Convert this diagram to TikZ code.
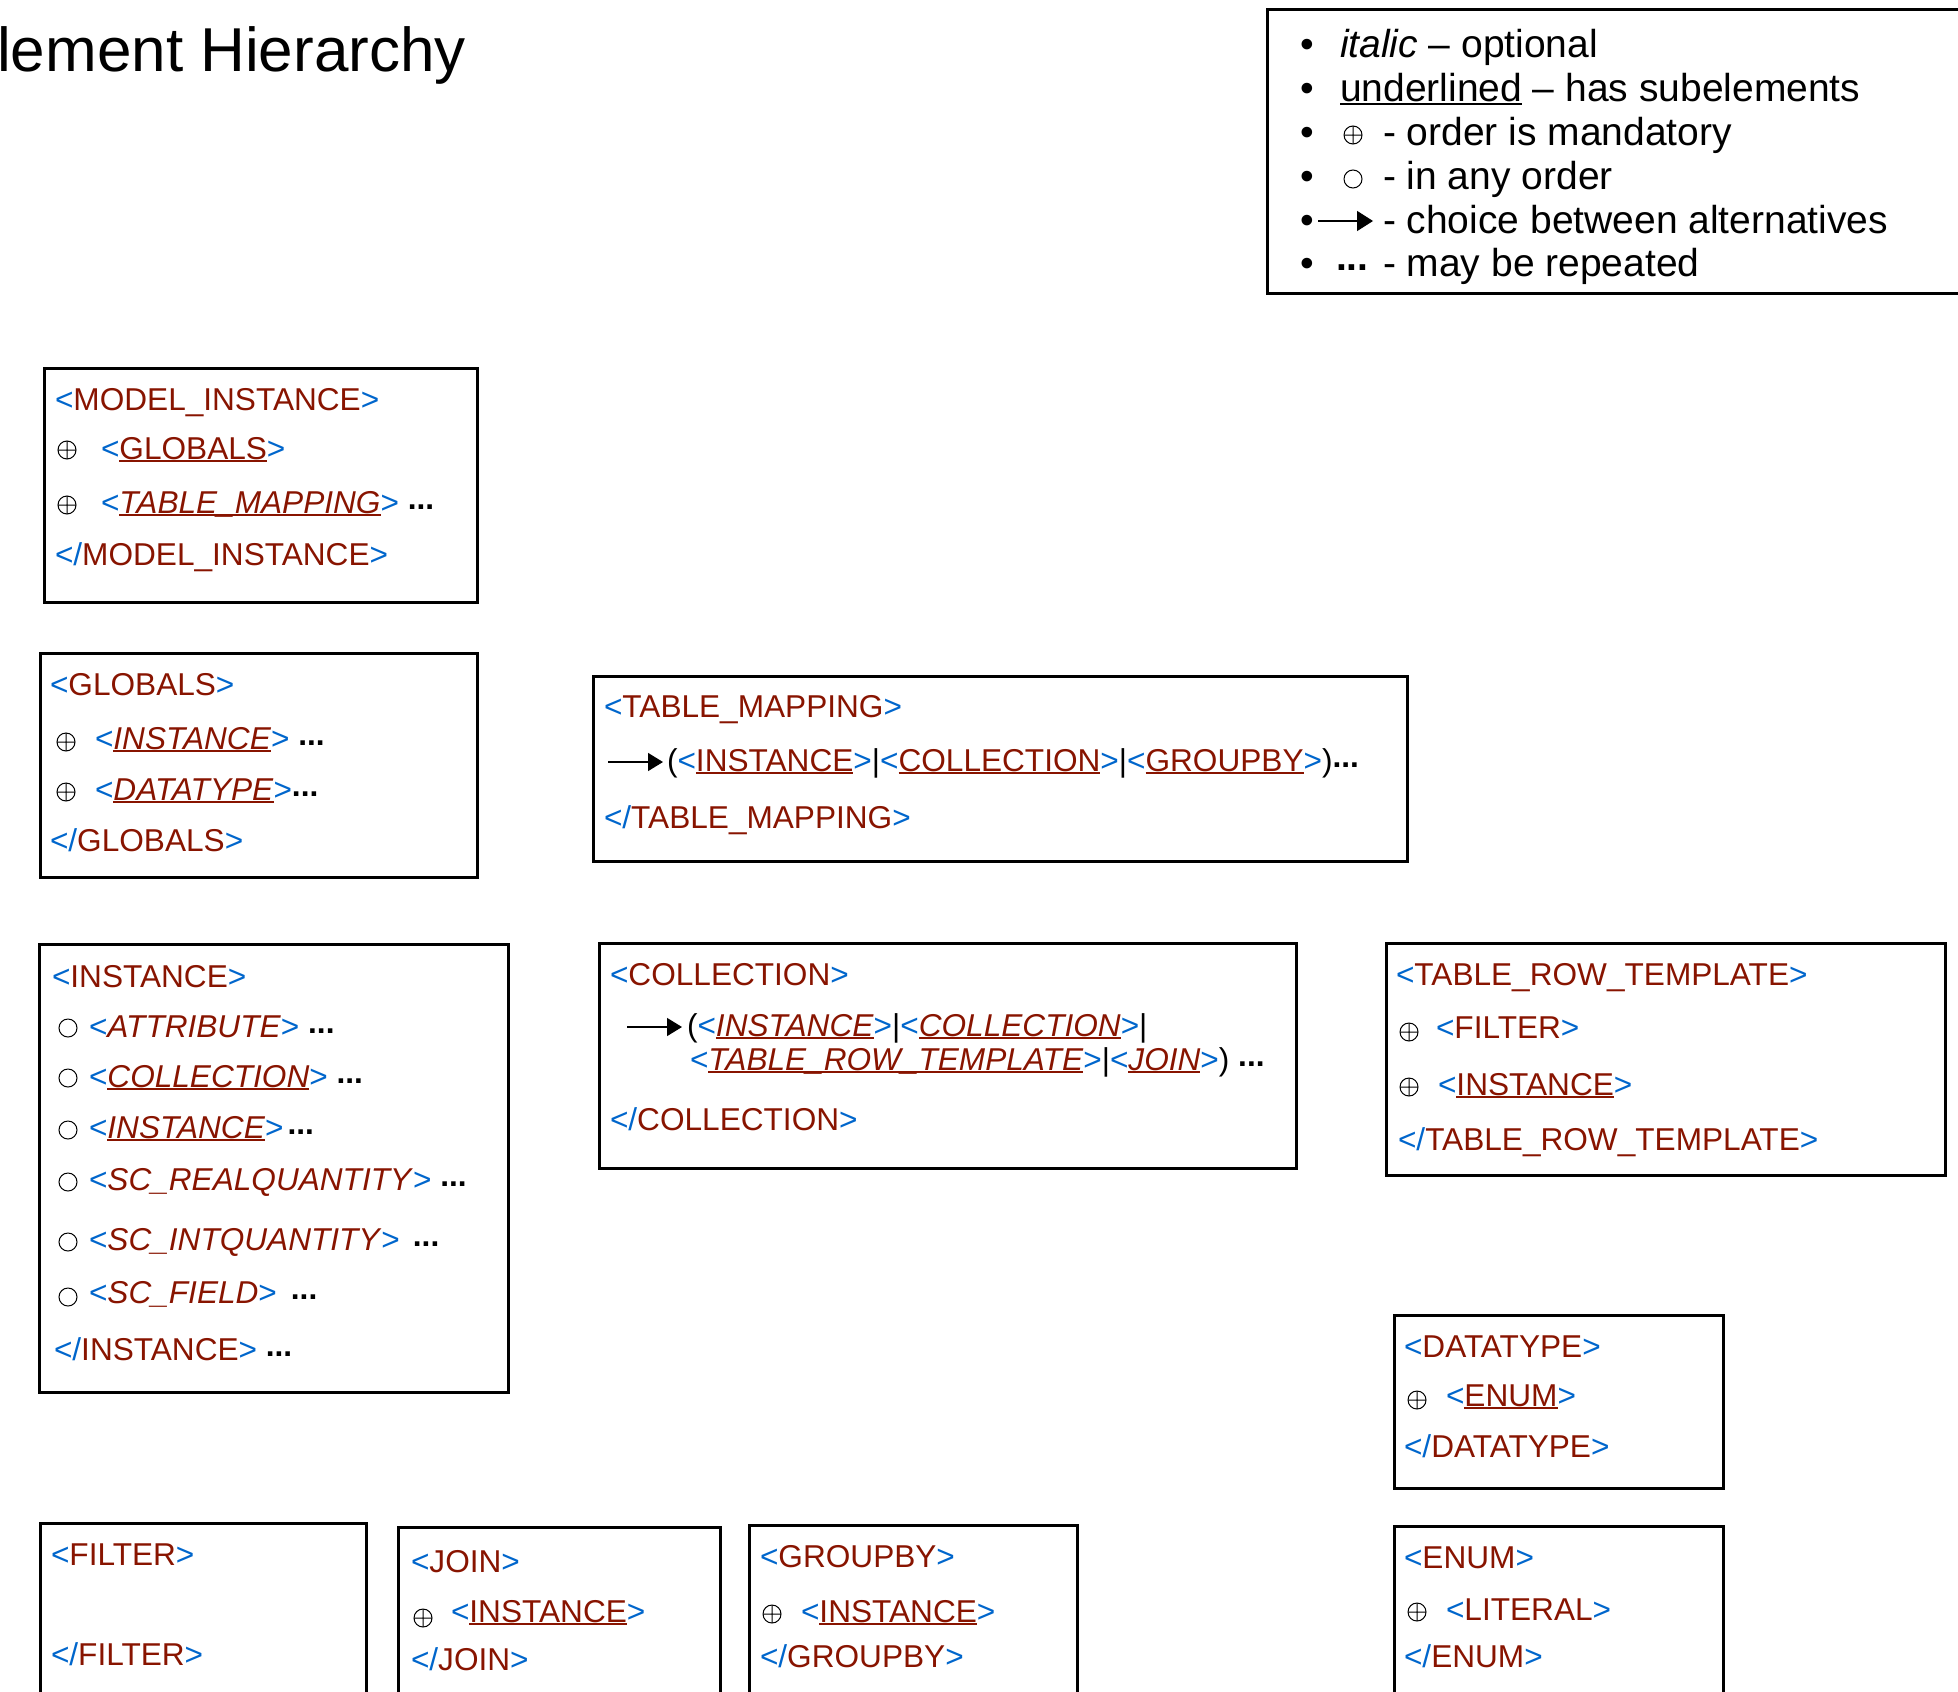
\documentclass[tikz,border=0pt]{standalone}
\usepackage{fontspec}
\setmainfont{Liberation Sans}
\usetikzlibrary{arrows.meta}
\definecolor{tagblue}{RGB}{0,102,204}
\definecolor{tagred}{RGB}{136,20,0}
\newcommand\tagL{\textcolor{tagblue}{<}}
\newcommand\tagR{\textcolor{tagblue}{>}}
\newcommand\tagLs{\textcolor{tagblue}{</}}
\newcommand\myul[1]{\setbox0\hbox{#1}\rlap{\rule[-2.6pt]{\wd0}{1.6pt}}\box0\relax}
\newcommand\nm[1]{\textcolor{tagred}{#1}}
\newcommand\unm[1]{\textcolor{tagred}{\myul{#1}}}
\newcommand\inm[1]{\textcolor{tagred}{\itshape #1\/}}
\newcommand\iunm[1]{\textcolor{tagred}{\myul{\itshape #1\/}}}
\newcommand\rep{\raisebox{4pt}{\textbf{...}}}
\tikzset{
  tx/.style={anchor=base west, inner sep=0pt, outer sep=0pt, font=\fontsize{31.6}{36}\selectfont},
  lg/.style={anchor=base west, inner sep=0pt, outer sep=0pt, font=\fontsize{39}{44}\selectfont},
  frame/.style={line width=3pt},
  choice/.style={line width=1.4pt, -{Triangle[length=15pt,width=18pt]}},
  lgchoice/.style={line width=1.4pt, -{Triangle[length=16pt,width=20pt]}},
  opl/.pic={\draw[line width=1pt] (0,0) circle (9pt) (-9,0) -- (9,0) (0,-9) -- (0,9);},
  ocirc/.pic={\draw[line width=1pt] (0,0) circle (9pt);}
}
\begin{document}
\begin{tikzpicture}[x=1pt,y=-1pt]
\useasboundingbox (0,0) rectangle (1958,1691);
\fill[white] (0,0) rectangle (1958,1691);

% title
\node[anchor=base west, inner sep=0pt, font=\fontsize{62}{70}\selectfont] (title) at (-3,72) {lement Hierarchy};

% legend
\draw[frame] (1962,10) -- (1267,10) -- (1267,293) -- (1962,293);
\node[lg] (b1) at (1300,58) {\textbullet};
\node[lg] (b2) at (1300,102) {\textbullet};
\node[lg] (b3) at (1300,146) {\textbullet};
\node[lg] (b4) at (1300,189) {\textbullet};
\node[lg] (b5) at (1300,233) {\textbullet};
\node[lg] (b6) at (1300,276) {\textbullet};
\node[lg] (l1) at (1340,58) {\textit{italic} -- optional};
\node[lg] (l2) at (1340,102) {\myul{underlined} -- has subelements};
\pic at (1353,135) {opl};
\node[lg] (l3) at (1383,146) {- order is mandatory};
\pic at (1353,179) {ocirc};
\node[lg] (l4) at (1383,189) {- in any order};
\coordinate (la1) at (1318,221);
\coordinate (la2) at (1373,221);
\draw[lgchoice] (la1) -- (la2);
\node[lg] (l5) at (1383,233) {- choice between alternatives};
\node[lg] (l6d) at (1336,276) {\raisebox{6pt}{\textbf{...}}};
\node[lg] (l6) at (1383,276) {- may be repeated};

% MODEL_INSTANCE
\draw[frame] (44,368) rectangle (477,602);
\node[tx] (mi1) at (55,410) {\tagL\nm{MODEL\_INSTANCE}\tagR};
\pic at (67,450) {opl};
\node[tx] (mi2) at (101,459) {\tagL\unm{GLOBALS}\tagR};
\pic at (67,505) {opl};
\node[tx] (mi3) at (101,513) {\tagL\iunm{TABLE\_MAPPING}\tagR\ \rep};
\node[tx] (mi4) at (55,565) {\tagLs\nm{MODEL\_INSTANCE}\tagR};

% GLOBALS
\draw[frame] (40,653) rectangle (477,877);
\node[tx] (g1) at (50,695) {\tagL\nm{GLOBALS}\tagR};
\pic at (66,742) {opl};
\node[tx] (g2) at (95,749) {\tagL\iunm{INSTANCE}\tagR\ \rep};
\pic at (66,792) {opl};
\node[tx] (g3) at (95,800) {\tagL\iunm{DATATYPE}\tagR\rep};
\node[tx] (g4) at (50,851) {\tagLs\nm{GLOBALS}\tagR};

% TABLE_MAPPING
\draw[frame] (593,676) rectangle (1407,861);
\node[tx] (tm1) at (604,717) {\tagL\nm{TABLE\_MAPPING}\tagR};
\coordinate (tma1) at (608,762);
\coordinate (tma2) at (663,762);
\draw[choice] (tma1) -- (tma2);
\node[tx] (tm2) at (667,771) {(\tagL\unm{INSTANCE}\tagR|\tagL\unm{COLLECTION}\tagR|\tagL\unm{GROUPBY}\tagR)\rep};
\node[tx] (tm3) at (604,828) {\tagLs\nm{TABLE\_MAPPING}\tagR};

% INSTANCE
\draw[frame] (39,944) rectangle (508,1392);
\node[tx] (in1) at (52,987) {\tagL\nm{INSTANCE}\tagR};
\pic at (68,1028) {ocirc};
\node[tx] (in2) at (89,1037) {\tagL\inm{ATTRIBUTE}\tagR\ \rep};
\pic at (68,1078) {ocirc};
\node[tx] (in3) at (89,1087) {\tagL\iunm{COLLECTION}\tagR\ \rep};
\pic at (68,1130) {ocirc};
\node[tx] (in4) at (89,1138) {\tagL\iunm{INSTANCE}\tagR\hspace{4pt}\rep};
\pic at (68,1182) {ocirc};
\node[tx] (in5) at (89,1190) {\tagL\inm{SC\_REALQUANTITY}\tagR\ \rep};
\pic at (68,1242) {ocirc};
\node[tx] (in6) at (89,1250) {\tagL\inm{SC\_INTQUANTITY}\tagR\hspace{13pt}\rep};
\pic at (68,1297) {ocirc};
\node[tx] (in7) at (89,1303) {\tagL\inm{SC\_FIELD}\tagR\hspace{14pt}\rep};
\node[tx] (in8) at (54,1360) {\tagLs\nm{INSTANCE}\tagR\ \rep};

% COLLECTION
\draw[frame] (599,943) rectangle (1296,1168);
\node[tx] (co1) at (610,985) {\tagL\nm{COLLECTION}\tagR};
\coordinate (coa1) at (627,1027);
\coordinate (coa2) at (682,1027);
\draw[choice] (coa1) -- (coa2);
\node[tx] (co2) at (687,1036) {(\tagL\iunm{INSTANCE}\tagR|\tagL\iunm{COLLECTION}\tagR|};
\node[tx] (co3) at (690,1070) {\tagL\iunm{TABLE\_ROW\_TEMPLATE}\tagR|\tagL\iunm{JOIN}\tagR)\ \rep};
\node[tx] (co4) at (610,1130) {\tagLs\nm{COLLECTION}\tagR};

% TABLE_ROW_TEMPLATE
\draw[frame] (1386,943) rectangle (1945,1175);
\node[tx] (tr1) at (1396,985) {\tagL\nm{TABLE\_ROW\_TEMPLATE}\tagR};
\pic at (1409,1032) {opl};
\node[tx] (tr2) at (1436,1038) {\tagL\nm{FILTER}\tagR};
\pic at (1409,1087) {opl};
\node[tx] (tr3) at (1438,1095) {\tagL\unm{INSTANCE}\tagR};
\node[tx] (tr4) at (1398,1150) {\tagLs\nm{TABLE\_ROW\_TEMPLATE}\tagR};

% DATATYPE
\draw[frame] (1394,1315) rectangle (1723,1488);
\node[tx] (dt1) at (1404,1357) {\tagL\nm{DATATYPE}\tagR};
\pic at (1417,1400) {opl};
\node[tx] (dt2) at (1446,1406) {\tagL\unm{ENUM}\tagR};
\node[tx] (dt3) at (1404,1457) {\tagLs\nm{DATATYPE}\tagR};

% ENUM
\draw[frame] (1394,1695) -- (1394,1526) -- (1723,1526) -- (1723,1695);
\node[tx] (en1) at (1404,1568) {\tagL\nm{ENUM}\tagR};
\pic at (1417,1612) {opl};
\node[tx] (en2) at (1446,1620) {\tagL\nm{LITERAL}\tagR};
\node[tx] (en3) at (1404,1667) {\tagLs\nm{ENUM}\tagR};

% FILTER
\draw[frame] (40,1695) -- (40,1523) -- (366,1523) -- (366,1695);
\node[tx] (fi1) at (51,1565) {\tagL\nm{FILTER}\tagR};
\node[tx] (fi2) at (51,1665) {\tagLs\nm{FILTER}\tagR};

% JOIN
\draw[frame] (398,1695) -- (398,1527) -- (720,1527) -- (720,1695);
\node[tx] (jo1) at (411,1572) {\tagL\nm{JOIN}\tagR};
\pic at (423,1618) {opl};
\node[tx] (jo2) at (451,1622) {\tagL\unm{INSTANCE}\tagR};
\node[tx] (jo3) at (411,1670) {\tagLs\nm{JOIN}\tagR};

% GROUPBY
\draw[frame] (749,1695) -- (749,1525) -- (1077,1525) -- (1077,1695);
\node[tx] (gb1) at (760,1567) {\tagL\nm{GROUPBY}\tagR};
\pic at (772,1614) {opl};
\node[tx] (gb2) at (801,1622) {\tagL\unm{INSTANCE}\tagR};
\node[tx] (gb3) at (760,1667) {\tagLs\nm{GROUPBY}\tagR};
\end{tikzpicture}
\end{document}
